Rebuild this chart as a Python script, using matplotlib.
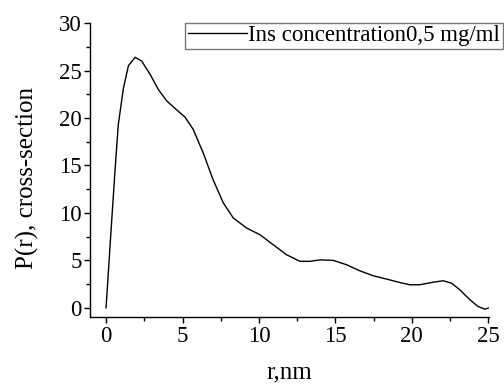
import numpy as np
import matplotlib
matplotlib.use('Agg')
import matplotlib.pyplot as plt
from matplotlib.ticker import MultipleLocator

# values
r_nm = [0, 0.3, 0.59, 0.8, 1.13, 1.46, 1.9, 2.33, 2.88, 3.42, 3.97, 4.73, 5.16, 5.7, 6.36,
        7.0, 7.67, 8.32, 9.2, 10.07, 10.93, 11.8, 12.68, 13.33, 14.0, 14.86, 15.73, 16.6,
        17.47, 18.35, 19.2, 19.87, 20.5, 21.4, 22.05, 22.6, 23.14, 23.8, 24.33, 24.77, 25.0]
p_r = [0, 7.5, 14.6, 19.3, 23.1, 25.5, 26.4, 26.0, 24.6, 23.0, 21.8, 20.7, 20.1, 18.8, 16.3,
       13.5, 11.05, 9.47, 8.4, 7.7, 6.65, 5.6, 4.9, 4.9, 5.05, 5.0, 4.54, 3.9,
       3.38, 3.03, 2.67, 2.43, 2.43, 2.7, 2.85, 2.6, 1.9, 0.85, 0.14, -0.14, -0.03]
legend_label = "Ins concentration0,5 mg/ml"

plt.rcParams['font.family'] = ['Liberation Serif', 'DejaVu Serif']

fig = plt.figure(figsize=(5.04, 3.85), dpi=100)
ax = fig.add_axes([0.1786, 0.1758, 0.7917, 0.7642])
ax.plot(r_nm, p_r, color='black', lw=1.0, label=legend_label)

ax.set_xlim(-1.05, 25.05)
ax.set_ylim(-1.0, 30)
ax.xaxis.set_major_locator(MultipleLocator(5))
ax.xaxis.set_minor_locator(MultipleLocator(2.5))
ax.yaxis.set_major_locator(MultipleLocator(5))
ax.yaxis.set_minor_locator(MultipleLocator(2.5))
ax.spines['top'].set_visible(False)
ax.spines['right'].set_visible(False)
for s in ('left', 'bottom'):
    ax.spines[s].set_linewidth(1.0)
ax.tick_params(which='major', direction='out', length=4, width=1.0, labelsize=16.5, pad=2)
ax.tick_params(which='minor', direction='out', length=3, width=1.0)

ax.set_xlabel('r,nm', fontsize=18, labelpad=11)
ax.set_ylabel('P(r), cross-section', fontsize=18)
ax.yaxis.set_label_coords(-0.128, 0.473)

leg = ax.legend(loc='upper right', bbox_to_anchor=(503 / 504, 1 - 22.5 / 385), bbox_transform=fig.transFigure,
                fontsize=16.5, frameon=True, fancybox=False, borderpad=0.12, handlelength=2.6,
                handletextpad=0.05, borderaxespad=0)
leg.get_frame().set_edgecolor('#555555')
leg.get_frame().set_linewidth(1.0)

fig.savefig('out.png', dpi=100)
